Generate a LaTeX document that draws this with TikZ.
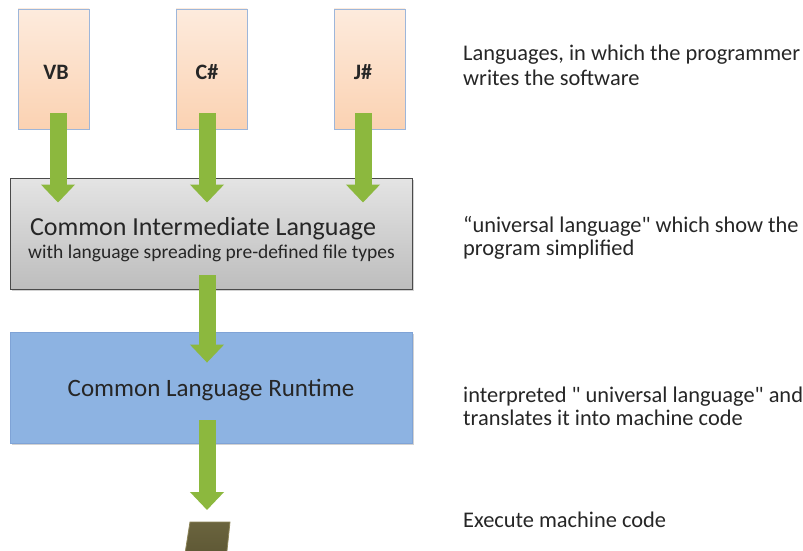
\documentclass[tikz,border=0pt]{standalone}
\usepackage{fontspec}
\setmainfont{Carlito}[Ligatures=TeXOff]
\usetikzlibrary{arrows.meta,shadows}
\definecolor{boxorangeT}{HTML}{FDEBDD}
\definecolor{boxorangeB}{HTML}{FBD2B2}
\definecolor{boxedge}{HTML}{9DB6DA}
\definecolor{grayT}{HTML}{E4E4E4}
\definecolor{grayB}{HTML}{BDBDBD}
\definecolor{grayedge}{HTML}{4A4A4A}
\definecolor{clrblue}{HTML}{8DB3E2}
\definecolor{clredge}{HTML}{7FA3D6}
\definecolor{arrowgreen}{HTML}{8CB83E}
\definecolor{chipfill}{HTML}{5C5633}
\definecolor{chipedge}{HTML}{8C8458}
\definecolor{txt}{HTML}{262626}
\tikzset{
  langbox/.style={draw=boxedge, line width=0.8pt, top color=boxorangeT, bottom color=boxorangeB,
    minimum width=71pt, minimum height=120pt, inner sep=0pt},
  langlabel/.style={anchor=base, inner sep=0pt, text=txt, font=\fontsize{22}{24}\selectfont\bfseries},
  cilbox/.style={draw=grayedge, line width=0.9pt, top color=grayT, bottom color=grayB,
    minimum width=402pt, minimum height=111pt, inner sep=0pt,
    drop shadow={shadow xshift=1.5pt, shadow yshift=-2pt, opacity=0.35}},
  clrbox/.style={draw=clredge, line width=0.8pt, fill=clrblue,
    minimum width=402pt, minimum height=111pt, inner sep=0pt,
    drop shadow={shadow xshift=1.5pt, shadow yshift=-2pt, opacity=0.35}},
  boxtext/.style={anchor=base, inner sep=0pt, text=txt},
  fatarrow/.style={draw=arrowgreen, line width=17pt,
    -{Triangle[width=33pt,length=18pt]}, arrowgreen},
  desc/.style={anchor=base west, inner sep=0pt, text=txt,
    font=\fontsize{22.4}{24}\selectfont}
}
\begin{document}
\begin{tikzpicture}[x=1pt,y=-1pt]
\useasboundingbox (0,0) rectangle (803,551);
\fill[white] (0,0) rectangle (803,551);

\node[langbox] (VB) at (53.5,69) {};
\node[langbox] (CS) at (211.5,69) {};
\node[langbox] (JS) at (369.5,69) {};
\node[langlabel] (VBl) at (56,80) {VB};
\node[langlabel] (CSl) at (207,80) {C\#};
\node[langlabel] (JSl) at (363,80) {J\#};

\node[cilbox] (CIL) at (211,233.5) {};
\node[boxtext, font=\fontsize{26}{28}\selectfont] (cilt) at (203,235) {Common Intermediate Language};
\node[boxtext, font=\fontsize{19.5}{22}\selectfont] (cils) at (211.5,258) {with language spreading pre-defined file types};

\node[clrbox] (CLR) at (211,387.5) {};
\node[boxtext, font=\fontsize{25}{28}\selectfont] (clrt) at (211,396) {Common Language Runtime};

% chip
\shade[top color=chipfill!70!chipedge, bottom color=chipfill, draw=chipedge, line width=0.8pt]
  (190,522) -- (230,522) -- (226,560) -- (184,560) -- cycle;
\coordinate (chip) at (207,522);

% arrows
\draw[fatarrow] ([xshift=4.5pt,yshift=16pt]VB.south) -- ([xshift=-153pt,yshift=-25pt]CIL.north);
\draw[fatarrow] ([xshift=-4.5pt,yshift=16pt]CS.south) -- ([xshift=-4pt,yshift=-25pt]CIL.north);
\draw[fatarrow] ([xshift=-6.5pt,yshift=16pt]JS.south) -- ([xshift=152pt,yshift=-25pt]CIL.north);
\draw[fatarrow] ([xshift=-4pt,yshift=14pt]CIL.south) -- ([xshift=-4pt,yshift=-31pt]CLR.north);
\draw[fatarrow] ([xshift=-4pt,yshift=23pt]CLR.south) -- ([yshift=12pt]chip);

% descriptions
\node[desc] (d1a) at (463,61) {Languages, in which the programmer};
\node[desc] (d1b) at (463,85) {writes the software};
\node[desc] (d2a) at (463,232) {“universal language" which show the};
\node[desc] (d2b) at (463,255) {program simplified};
\node[desc] (d3a) at (463,402) {interpreted " universal language" and};
\node[desc] (d3b) at (463,425) {translates it into machine code};
\node[desc] (d4) at (463,527) {Execute machine code};
\end{tikzpicture}
\end{document}
